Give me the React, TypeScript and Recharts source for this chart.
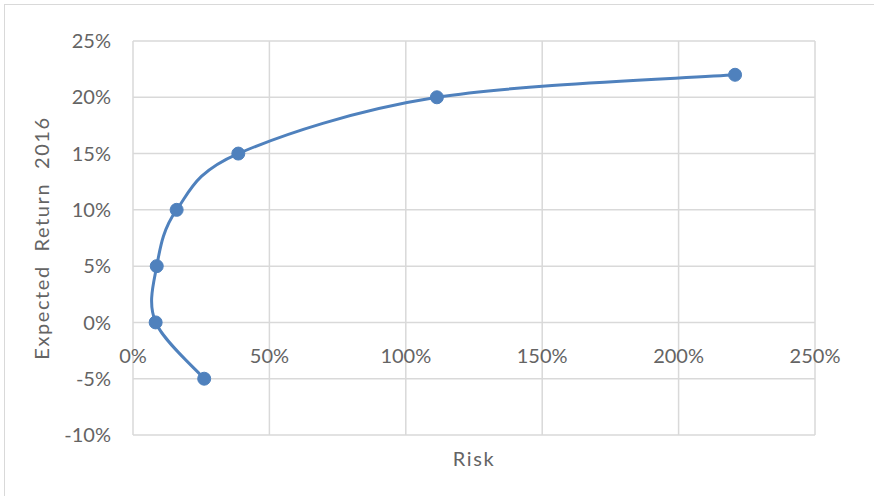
import React from 'react';
import { LineChart, Line, XAxis, YAxis, CartesianGrid } from 'recharts';

// Risk (%) and expected return (%) for each portfolio on the frontier
const riskPct = [26.1, 8.3, 8.7, 16.0, 38.6, 111.4, 220.7];
const returnPct = [-5, 0, 5, 10, 15, 20, 22];

const xTicks = [0, 50, 100, 150, 200, 250];
const yTicks = [-10, -5, 0, 5, 10, 15, 20, 25];

const data = riskPct.map((r, i) => ({ risk: r, ret: returnPct[i] }));

const W = 874;
const H = 496;
const MARGIN = { top: 41, right: 59, bottom: 0, left: 0 };
const Y_AXIS_W = 133;
const X_AXIS_H = 61;
const PLOT_H = H - MARGIN.top - MARGIN.bottom - X_AXIS_H;
const Y_MIN = yTicks[0];
const Y_MAX = yTicks[yTicks.length - 1];

const LINE_COLOR = '#4F81BD';
const GRID_COLOR = '#D9D9D9';
const TEXT_COLOR = '#646464';
const FONT = 'Lato, "Open Sans", sans-serif';
const FONT_SIZE = 20;
const TITLE_STYLE = { letterSpacing: '1.6px', wordSpacing: '7px' };

// Smooth curve through every point, in data order (Catmull-Rom as cubic Béziers)
function smoothCurve(context: any) {
  let pts: number[][] = [];
  return {
    areaStart() {},
    areaEnd() {},
    lineStart() {
      pts = [];
    },
    point(x: number, y: number) {
      pts.push([+x, +y]);
    },
    lineEnd() {
      if (!pts.length) return;
      context.moveTo(pts[0][0], pts[0][1]);
      for (let i = 0; i < pts.length - 1; i++) {
        const p0 = pts[i - 1] || pts[i];
        const p1 = pts[i];
        const p2 = pts[i + 1];
        const p3 = pts[i + 2] || pts[i + 1];
        context.bezierCurveTo(
          p1[0] + (p2[0] - p0[0]) / 6,
          p1[1] + (p2[1] - p0[1]) / 6,
          p2[0] - (p3[0] - p1[0]) / 6,
          p2[1] - (p3[1] - p1[1]) / 6,
          p2[0],
          p2[1]
        );
      }
    },
  };
}

// X tick labels sit just below the 0% gridline rather than at the plot bottom
const zeroLineOffset = (PLOT_H * (0 - Y_MIN)) / (Y_MAX - Y_MIN);

const XTick = (props: any) => {
  const { x, payload } = props;
  const axisTop = MARGIN.top + PLOT_H;
  const y = axisTop - zeroLineOffset + 33;
  return (
    <text
      x={x}
      y={y}
      textAnchor="middle"
      dominantBaseline="central"
      fill={TEXT_COLOR}
      fontFamily={FONT}
      fontSize={FONT_SIZE}
    >
      {`${payload.value}%`}
    </text>
  );
};

const YTitle = (props: any) => {
  const { viewBox } = props;
  const cx = 41;
  const cy = viewBox.y + viewBox.height / 2;
  return (
    <text
      x={cx}
      y={cy}
      transform={`rotate(-90 ${cx} ${cy})`}
      textAnchor="middle"
      dominantBaseline="central"
      fill={TEXT_COLOR}
      fontFamily={FONT}
      fontSize={FONT_SIZE}
      style={TITLE_STYLE}
    >
      Expected Return 2016
    </text>
  );
};

const XTitle = (props: any) => {
  const { viewBox } = props;
  return (
    <text
      x={viewBox.x + viewBox.width / 2}
      y={viewBox.y + 23}
      textAnchor="middle"
      dominantBaseline="central"
      fill={TEXT_COLOR}
      fontFamily={FONT}
      fontSize={FONT_SIZE}
      style={TITLE_STYLE}
    >
      Risk
    </text>
  );
};

export default function App() {
  return (
    <div
      style={{
        position: 'relative',
        width: W,
        height: H,
        overflow: 'hidden',
        background: '#fff',
      }}
    >
      <style>{'body{margin:0;}'}</style>
      <div
        style={{
          position: 'absolute',
          left: 4,
          top: 4,
          width: W + 100,
          height: H + 100,
          border: `1px solid ${GRID_COLOR}`,
          boxSizing: 'border-box',
        }}
      />
      <div style={{ position: 'absolute', left: 0, top: 0 }}>
        <LineChart width={W} height={H} data={data} margin={MARGIN}>
          <CartesianGrid stroke={GRID_COLOR} strokeWidth={1.5} vertical horizontal />
          <XAxis
            dataKey="risk"
            type="number"
            domain={[xTicks[0], xTicks[xTicks.length - 1]]}
            ticks={xTicks}
            height={X_AXIS_H}
            axisLine={false}
            tickLine={false}
            tick={<XTick />}
            label={<XTitle />}
            allowDataOverflow
          />
          <YAxis
            dataKey="ret"
            type="number"
            domain={[Y_MIN, Y_MAX]}
            ticks={yTicks}
            width={Y_AXIS_W}
            axisLine={false}
            tickLine={false}
            tickSize={0}
            tickMargin={22}
            tick={{ fill: TEXT_COLOR, fontFamily: FONT, fontSize: FONT_SIZE }}
            tickFormatter={(v: number) => `${v}%`}
            label={<YTitle />}
          />
          <Line
            dataKey="ret"
            type={smoothCurve as any}
            stroke={LINE_COLOR}
            strokeWidth={3}
            dot={{ r: 6.5, fill: LINE_COLOR, stroke: LINE_COLOR, strokeWidth: 1 }}
            activeDot={false}
            isAnimationActive={false}
          />
        </LineChart>
      </div>
    </div>
  );
}
